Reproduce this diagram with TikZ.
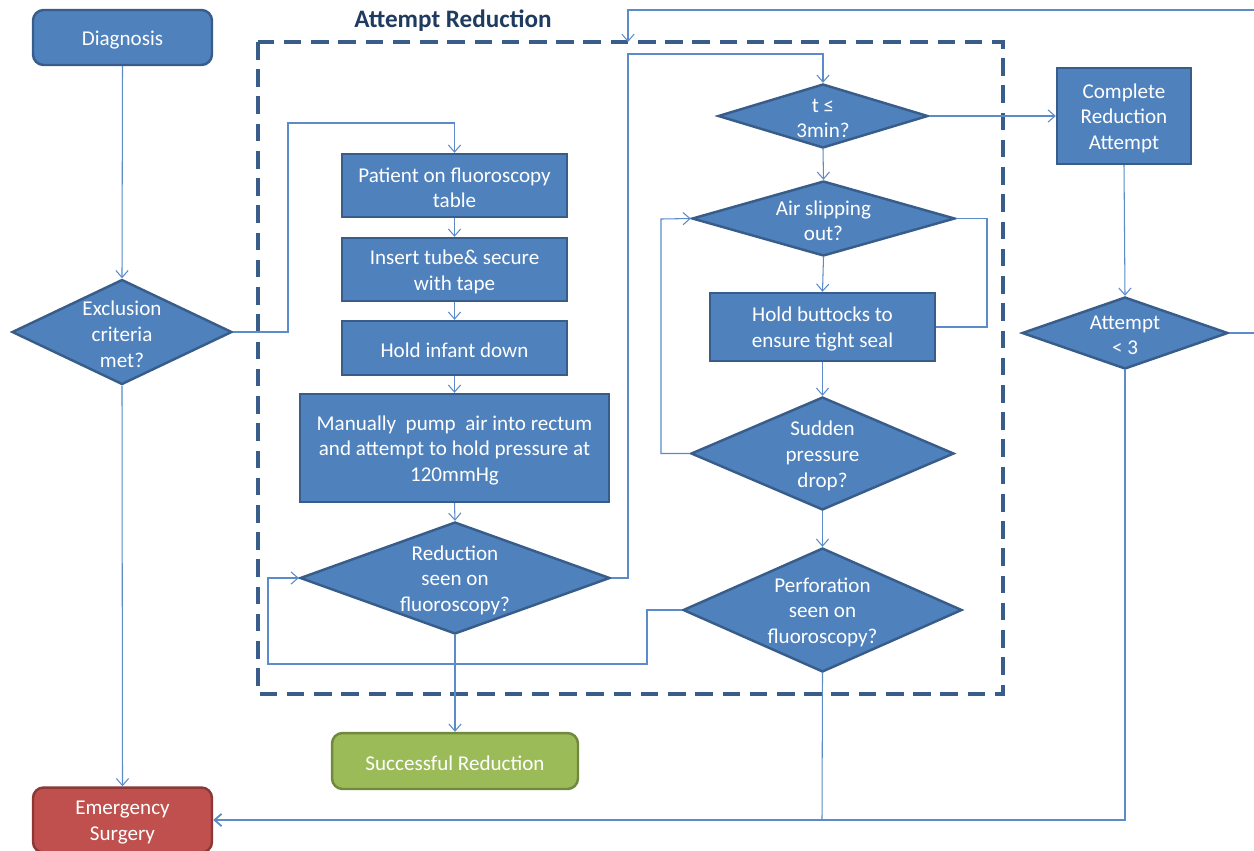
\documentclass[tikz,border=0pt]{standalone}
\usepackage{fontspec}
\setmainfont{Carlito}
\usetikzlibrary{shapes.geometric,arrows.meta}
\definecolor{fillb}{HTML}{4F81BD}
\definecolor{drawb}{HTML}{385D8A}
\definecolor{connc}{HTML}{5B8BC9}
\definecolor{fillg}{HTML}{9BBB59}
\definecolor{drawg}{HTML}{71893F}
\definecolor{fillr}{HTML}{C0504D}
\definecolor{drawr}{HTML}{8C3836}
\definecolor{titlec}{HTML}{1F3B5F}
\begin{document}
\begin{tikzpicture}[x=0.02cm,y=-0.02cm,
  every node/.style={font=\fontsize{12}{14.6}\selectfont, text=white},
  box/.style={draw=drawb, fill=fillb, line width=1.4pt, inner sep=0pt},
  rbox/.style={box, rounded corners=6pt},
  dia/.style={diamond, draw=drawb, fill=fillb, line width=1.4pt, inner sep=0pt},
  lbl/.style={align=center, inner sep=0pt, yshift=-1.3pt},
  conn/.style={draw=connc, line width=0.6pt},
  arr/.style={conn, -{Straight Barb[length=4pt,width=7pt]}},
  dashbox/.style={draw=drawb, line width=2.2pt, dash pattern=on 10pt off 5.5pt}]
\useasboundingbox (0,0) rectangle (1254,850);

% region
\draw[dashbox] (258,42) rectangle (1003,694);
\node[font=\fontsize{14.3}{16}\selectfont\bfseries, text=titlec] (title) at (453,21) {Attempt Reduction};

% left column
\node[rbox, minimum width=3.58cm, minimum height=1.1cm] (diag) at (122.5,37.5) {};
\node[lbl] at (diag) {Diagnosis};
\node[dia, minimum width=4.4cm, minimum height=2.1cm] (excl) at (122,332) {};
\node[lbl] at (excl) {Exclusion\\criteria\\met?};
\node[rbox, draw=drawr, fill=fillr, minimum width=3.58cm, minimum height=1.3cm] (emer) at (122.5,820) {};
\node[lbl] at (emer) {Emergency\\Surgery};

% middle column
\node[box, minimum width=4.5cm, minimum height=1.26cm] (pat) at (454.5,185.5) {};
\node[lbl] at (pat) {Patient on fluoroscopy\\table};
\node[box, minimum width=4.5cm, minimum height=1.26cm] (ins) at (454.5,269.5) {};
\node[lbl] at (ins) {Insert tube\& secure\\with tape};
\node[box, minimum width=4.5cm, minimum height=1.08cm] (hold0) at (454.5,348) {};
\node[lbl] at (hold0) {Hold infant down};
\node[box, minimum width=6.18cm, minimum height=2.16cm] (man) at (454.5,448) {};
\node[lbl] at (man) {Manually\ \ pump\ \ air into rectum\\and attempt to hold pressure at\\120mmHg};
\node[dia, minimum width=6.2cm, minimum height=2.24cm] (red) at (455,578) {};
\node[lbl] at (red) {Reduction\\seen on\\fluoroscopy?};
\node[rbox, draw=drawg, fill=fillg, minimum width=4.92cm, minimum height=1.12cm] (succ) at (455,761) {};
\node[lbl] at (succ) {Successful Reduction};

% right column inside region
\node[dia, minimum width=4.2cm, minimum height=1.28cm] (tdia) at (823,116) {};
\node[lbl] at (tdia) {t ≤\\3min?};
\node[dia, minimum width=5.26cm, minimum height=1.5cm] (air) at (823.5,218.5) {};
\node[lbl] at (air) {Air slipping\\out?};
\node[box, minimum width=4.5cm, minimum height=1.36cm] (hold) at (822.5,327) {};
\node[lbl] at (hold) {Hold buttocks to\\ensure tight seal};
\node[dia, minimum width=5.26cm, minimum height=2.26cm] (sud) at (822.5,453.5) {};
\node[lbl] at (sud) {Sudden\\pressure\\drop?};
\node[dia, minimum width=5.58cm, minimum height=2.48cm] (perf) at (822.5,610) {};
\node[lbl] at (perf) {Perforation\\seen on\\fluoroscopy?};

% far right
\node[box, minimum width=2.68cm, minimum height=1.92cm] (comp) at (1124,116) {};
\node[lbl] at (comp) {Complete\\Reduction\\Attempt};
\node[dia, minimum width=4.12cm, minimum height=1.44cm] (att) at (1125,333) {};
\node[lbl] at (att) {Attempt\\< 3};

\coordinate (outR) at (1254,333);
\coordinate (outT) at (1254,10);
\coordinate (entry) at (628,42);

% connectors
\draw[arr] (diag.south) -- (excl.north);
\draw[arr] (excl.south) -- (emer.north);
\draw[arr] (excl.east) -| (288,123) -| (pat.north);
\draw[arr] (pat.south) -- (ins.north);
\draw[arr] (ins.south) -- (hold0.north);
\draw[arr] (hold0.south) -- (man.north);
\draw[arr] (man.south) -- (red.north);
\draw[arr] (red.south) -- (succ.north);
\draw[arr] (red.east) -| (628,54) -| (tdia.north);
\draw[arr] (tdia.east) -- (comp.west);
\draw[arr] (tdia.south) -- (air.north);
\draw[arr] (air.south) -- (hold.north);
\draw[conn] (air.east) -| (987,327) -- (hold.east);
\draw[arr] (hold.south) -- (sud.north);
\draw[arr] (sud.west) -| (661,219) -- (air.west);
\draw[arr] (sud.south) -- (perf.north);
\draw[arr] (perf.west) -| (647,664) -| (268,578) -- (red.west);
\draw[conn] (perf.south) -- (822,820);
\draw[arr, line width=1pt] (att.south) |- (emer.east);
\draw[arr] (comp.south) -- (att.north);
\draw[conn] (att.east) -- (outR);
\draw[arr] (outT) -| (entry);
\end{tikzpicture}
\end{document}
